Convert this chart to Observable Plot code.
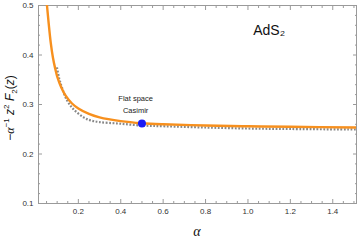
<!DOCTYPE html>
<html><head><meta charset="utf-8">
<script src="https://cdn.jsdelivr.net/npm/d3@7"></script>
<script src="https://cdn.jsdelivr.net/npm/@observablehq/plot@0.6"></script>
<style>body{margin:0;background:#fff} svg{display:block}</style>
</head><body><div id="chart"></div>
<script>
// AdS2 curve (orange)
const alphaOrange = [0.052, 0.06, 0.07, 0.08, 0.09, 0.1, 0.12, 0.14, 0.17, 0.2, 0.25, 0.3, 0.4, 0.5, 0.6, 0.8, 1.0, 1.2, 1.512];
const orangeVals  = [0.5, 0.464, 0.424, 0.395, 0.374, 0.357, 0.334, 0.318, 0.302, 0.292, 0.281, 0.274, 0.2665, 0.2622, 0.2600, 0.2575, 0.2560, 0.2550, 0.2535];
// flat-space curve (gray dotted)
const alphaGray = [0.099, 0.11, 0.123, 0.146, 0.178, 0.225, 0.257, 0.3, 0.39, 0.5, 0.61, 0.8, 1.0, 1.2, 1.512];
const grayVals  = [0.375, 0.352, 0.334, 0.309, 0.290, 0.274, 0.268, 0.2645, 0.2615, 0.2575, 0.256, 0.2535, 0.2515, 0.2505, 0.2495];
// Flat space Casimir point
const pointAlpha = [0.5];
const pointVals = [0.2615];
// tick values
const xMajor = [0.2, 0.4, 0.6, 0.8, 1.0, 1.2, 1.4];
const xMinor = [0.05,0.1,0.15,0.25,0.3,0.35,0.45,0.5,0.55,0.65,0.7,0.75,0.85,0.9,0.95,1.05,1.1,1.15,1.25,1.3,1.35,1.45,1.5];
const yMajor = [0.1, 0.2, 0.3, 0.4, 0.5];
const yMinor = [0.12,0.14,0.16,0.18,0.22,0.24,0.26,0.28,0.32,0.34,0.36,0.38,0.42,0.44,0.46,0.48];
// annotations
const notes = [
  {a: 0.47, v: 0.312, t: "Flat space"},
  {a: 0.47, v: 0.288, t: "Casimir"}
];
const tagA = [1.1], tagV = [0.449];

const orange = alphaOrange.map((a, i) => ({a, v: orangeVals[i]}));
const gray = alphaGray.map((a, i) => ({a, v: grayVals[i]}));
const pts = pointAlpha.map((a, i) => ({a, v: pointVals[i]}));

const tickStroke = "#9a9a9a";
const plot = Plot.plot({
  width: 359, height: 240,
  marginLeft: 38, marginRight: 3, marginTop: 5, marginBottom: 37,
  x: {domain: [0.012, 1.512]},
  y: {domain: [0.1, 0.5]},
  style: {fontFamily: "Liberation Sans, Arial, sans-serif", fontSize: "8px", color: "#333", background: "white"},
  marks: [
    Plot.frame({stroke: tickStroke}),
    Plot.axisX(xMajor, {anchor: "bottom", tickSize: -4, tickPadding: 9, tickFormat: d => d.toFixed(1), label: null, stroke: tickStroke}),
    Plot.axisX(xMinor, {anchor: "bottom", tickSize: -2, text: null, label: null, stroke: tickStroke}),
    Plot.axisX(xMajor, {anchor: "top", tickSize: -4, text: null, label: null, stroke: tickStroke}),
    Plot.axisX(xMinor, {anchor: "top", tickSize: -2, text: null, label: null, stroke: tickStroke}),
    Plot.axisY(yMajor, {anchor: "left", tickSize: -4, tickPadding: 9, tickFormat: d => d.toFixed(1), label: null, stroke: tickStroke}),
    Plot.axisY(yMinor, {anchor: "left", tickSize: -2, text: null, label: null, stroke: tickStroke}),
    Plot.axisY(yMajor, {anchor: "right", tickSize: -4, text: null, label: null, stroke: tickStroke}),
    Plot.axisY(yMinor, {anchor: "right", tickSize: -2, text: null, label: null, stroke: tickStroke}),
    Plot.line(gray, {x: "a", y: "v", stroke: "#888888", strokeWidth: 2.2, strokeDasharray: "1.8,1.6", strokeLinecap: "butt", curve: "catmull-rom", clip: true}),
    Plot.line(orange, {x: "a", y: "v", stroke: "#f7901e", strokeWidth: 2.4, curve: "catmull-rom", clip: true}),
    Plot.dot(pts, {x: "a", y: "v", r: 4, fill: "#1a1af5", stroke: "none"}),
    Plot.text(notes, {x: "a", y: "v", text: "t", fontSize: 7.5, fill: "#222", stroke: "none"}),
    Plot.text(tagA, {x: d => d, y: (d, i) => tagV[i], text: () => "AdS₂", fontSize: 14, fill: "#111"})
  ]
});
document.getElementById("chart").appendChild(plot);

// axis labels with italic math
const svg = d3.select(plot);
const yl = svg.append("text")
  .attr("transform", "translate(14,108) rotate(-90)")
  .attr("text-anchor", "middle")
  .attr("font-family", "Liberation Sans, Arial, sans-serif")
  .attr("font-size", 12).attr("fill", "#111");
yl.append("tspan").text("−");
yl.append("tspan").attr("font-style", "italic").attr("font-family", "Liberation Serif, serif").text("α");
yl.append("tspan").attr("font-size", 8).attr("dy", -5).text("−1");
yl.append("tspan").attr("dy", 5).attr("font-style", "italic").text(" z");
yl.append("tspan").attr("font-size", 8).attr("dy", -5).text("2");
yl.append("tspan").attr("dy", 5).attr("font-style", "italic").text(" F");
yl.append("tspan").attr("font-size", 8).attr("dy", 3).text("2");
yl.append("tspan").attr("dy", -3).text("(");
yl.append("tspan").attr("font-style", "italic").text("z");
yl.append("tspan").text(")");

svg.append("text")
  .attr("x", 197).attr("y", 236)
  .attr("text-anchor", "middle")
  .attr("font-family", "Liberation Serif, serif")
  .attr("font-style", "italic")
  .attr("font-size", 14).attr("fill", "#111")
  .text("α");
</script>
</body></html>
